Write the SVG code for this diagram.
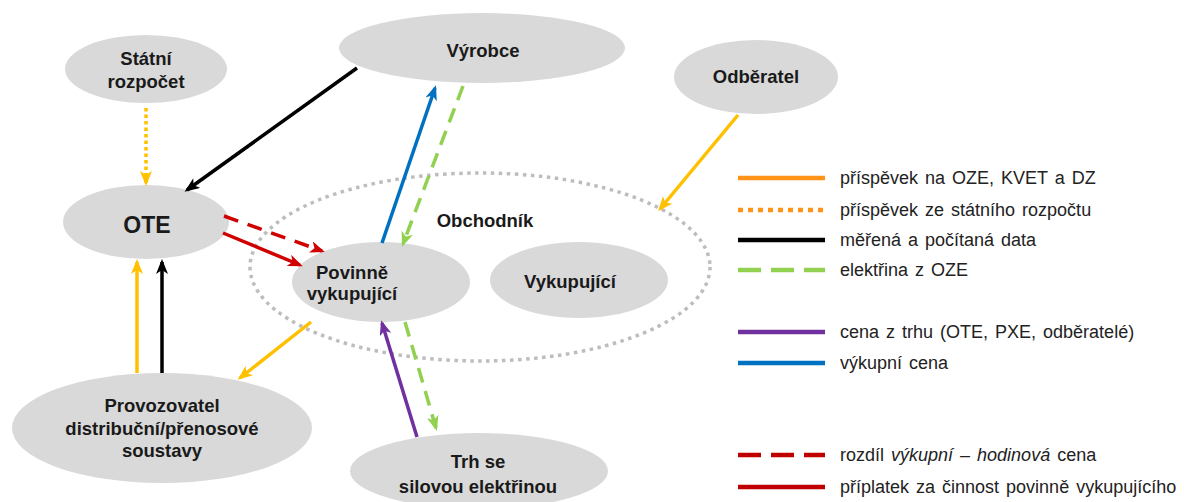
<svg xmlns="http://www.w3.org/2000/svg" width="1184" height="502" viewBox="0 0 1184 502">
<style>
.node{fill:#D9D9D9}
.nt{font-family:"Liberation Sans",Arial,sans-serif;font-weight:bold;font-size:18.5px;fill:#1a1a1a;text-anchor:middle}
.lt{font-family:"Liberation Sans",Arial,sans-serif;font-size:18px;fill:#222;word-spacing:2px}
.c{fill:none;stroke-width:3.5;stroke-linecap:butt}
.or{stroke:#FFC000}
.bk{stroke:#000}
.rd{stroke:#D00000}
.bl{stroke:#0070C0}
.gr{stroke:#92D050}
.pu{stroke:#7030A0}
.lg{fill:none;stroke-width:4.5}
</style>
<defs>
<marker id="aOr" markerUnits="userSpaceOnUse" markerWidth="16" markerHeight="12" refX="12" refY="6" orient="auto"><path d="M0,0 L15,6 L0,12 L4,6 z" fill="#FFC000"/></marker>
<marker id="aBk" markerUnits="userSpaceOnUse" markerWidth="16" markerHeight="12" refX="12" refY="6" orient="auto"><path d="M0,0 L15,6 L0,12 L4,6 z" fill="#000"/></marker>
<marker id="aRd" markerUnits="userSpaceOnUse" markerWidth="16" markerHeight="12" refX="12" refY="6" orient="auto"><path d="M0,0 L15,6 L0,12 L4,6 z" fill="#D00000"/></marker>
<marker id="aBl" markerUnits="userSpaceOnUse" markerWidth="16" markerHeight="12" refX="12" refY="6" orient="auto"><path d="M0,0 L15,6 L0,12 L4,6 z" fill="#0070C0"/></marker>
<marker id="aGr" markerUnits="userSpaceOnUse" markerWidth="16" markerHeight="12" refX="12" refY="6" orient="auto"><path d="M0,0 L15,6 L0,12 L4,6 z" fill="#92D050"/></marker>
<marker id="aPu" markerUnits="userSpaceOnUse" markerWidth="16" markerHeight="12" refX="12" refY="6" orient="auto"><path d="M0,0 L15,6 L0,12 L4,6 z" fill="#7030A0"/></marker>
</defs>
<rect width="1184" height="502" fill="#fff"/>

<g id="obchodnik">
<ellipse cx="480" cy="267" rx="230" ry="94" fill="none" stroke="#BDBDBD" stroke-width="3.5" stroke-dasharray="3.5 4.5"/>
<text class="nt" x="485" y="227">Obchodník</text>
</g>

<g id="statni-rozpocet">
<ellipse class="node" cx="146" cy="69" rx="81" ry="34"/>
<text class="nt" x="146" y="65">Státní</text>
<text class="nt" x="146" y="88">rozpočet</text>
</g>

<g id="vyrobce">
<ellipse class="node" cx="482" cy="48" rx="143" ry="35"/>
<text class="nt" x="483" y="57">Výrobce</text>
</g>

<g id="odberatel">
<ellipse class="node" cx="756" cy="77" rx="82" ry="37"/>
<text class="nt" x="756" y="83">Odběratel</text>
</g>

<g id="ote">
<ellipse class="node" cx="146" cy="222" rx="83" ry="37"/>
<text class="nt" x="147" y="233" style="font-size:23px">OTE</text>
</g>

<g id="povinne-vykupujici">
<ellipse class="node" cx="381" cy="282" rx="89" ry="40"/>
<text class="nt" x="352" y="279">Povinně</text>
<text class="nt" x="352" y="300">vykupující</text>
</g>

<g id="vykupujici">
<ellipse class="node" cx="579" cy="280" rx="89" ry="38"/>
<text class="nt" x="570" y="288">Vykupující</text>
</g>

<g id="provozovatel">
<ellipse class="node" cx="162" cy="428" rx="150" ry="55"/>
<text class="nt" x="162" y="412">Provozovatel</text>
<text class="nt" x="162" y="435">distribuční/přenosové</text>
<text class="nt" x="162" y="457">soustavy</text>
</g>

<g id="trh">
<ellipse class="node" cx="479" cy="471" rx="129" ry="38"/>
<text class="nt" x="478" y="468">Trh se</text>
<text class="nt" x="478" y="493">silovou elektřinou</text>
</g>

<g id="connectors">
<path class="c or" d="M146,108 L146,183" stroke-dasharray="3.5 3" marker-end="url(#aOr)"/>
<path class="c bk" d="M357,68 L187,190" marker-end="url(#aBk)"/>
<path class="c rd" d="M224,216 L322,251" stroke-dasharray="15 10" marker-end="url(#aRd)"/>
<path class="c rd" d="M223,233 L300,265" marker-end="url(#aRd)"/>
<path class="c bl" d="M382,243 L435,88" marker-end="url(#aBl)"/>
<path class="c gr" d="M463,86 L403,244" stroke-dasharray="15 9" marker-end="url(#aGr)"/>
<path class="c or" d="M738,115 L660,209" marker-end="url(#aOr)"/>
<path class="c or" d="M311,322 L240,378" marker-end="url(#aOr)"/>
<path class="c or" d="M137,373 L137,262" marker-end="url(#aOr)"/>
<path class="c bk" d="M162,373 L162,262" marker-end="url(#aBk)"/>
<path class="c pu" d="M417,437 L382,323" marker-end="url(#aPu)"/>
<path class="c gr" d="M405,322 L436,428" stroke-dasharray="15 9" marker-end="url(#aGr)"/>
</g>

<g id="legend">
<line class="lg" x1="738" y1="178" x2="825" y2="178" stroke="#FF9419"/>
<text class="lt" x="840" y="184">příspěvek na OZE, KVET a DZ</text>
<line class="lg" x1="738" y1="210" x2="825" y2="210" stroke="#FF9419" stroke-dasharray="5 5"/>
<text class="lt" x="840" y="216">příspěvek ze státního rozpočtu</text>
<line class="lg" x1="738" y1="240" x2="825" y2="240" stroke="#000"/>
<text class="lt" x="840" y="246">měřená a počítaná data</text>
<line class="lg" x1="738" y1="270" x2="825" y2="270" stroke="#92D050" stroke-dasharray="23 10"/>
<text class="lt" x="840" y="276">elektřina z OZE</text>
<line class="lg" x1="738" y1="332" x2="825" y2="332" stroke="#7030A0"/>
<text class="lt" x="840" y="338">cena z trhu (OTE, PXE, odběratelé)</text>
<line class="lg" x1="738" y1="363" x2="825" y2="363" stroke="#0070C0"/>
<text class="lt" x="840" y="369">výkupní cena</text>
<line class="lg" x1="738" y1="455" x2="825" y2="455" stroke="#C00000" stroke-dasharray="23 10"/>
<text class="lt" x="840" y="461">rozdíl <tspan font-style="italic">výkupní – hodinová</tspan> cena</text>
<line class="lg" x1="738" y1="487" x2="825" y2="487" stroke="#C00000"/>
<text class="lt" x="840" y="493">příplatek za činnost povinně vykupujícího</text>
</g>
</svg>
